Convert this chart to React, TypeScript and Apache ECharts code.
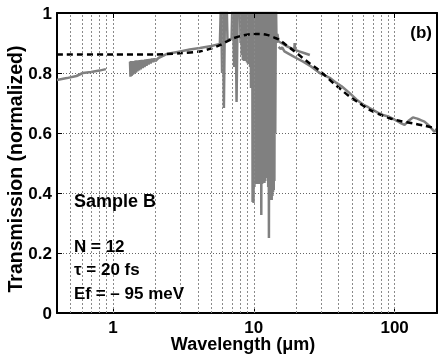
import React, { useEffect, useRef } from 'react';
import * as echarts from 'echarts';

// Tick labels
const xTickLabels = [1, 10, 100];
const yTicks = [0, 0.2, 0.4, 0.6, 0.8, 1];
// Log-decade dotted grid positions (µm)
const gridX = [0.5, 0.6, 0.7, 0.8, 0.9, 1, 2, 3, 4, 5, 6, 7, 8, 9, 10, 20, 30, 40, 50, 60, 70, 80, 90, 100];

// Measured transmission, near-IR segment [wavelength µm, T]
const measuredNIR = [
  [0.4, 0.777], [0.47, 0.783], [0.55, 0.79], [0.61, 0.8], [0.7, 0.803], [0.8, 0.808], [0.89, 0.813],
];

// Measured transmission, mid-IR segment (noisy start, absorption spikes, saturated band)
const measuredMIR = [
  [1.32, 0.838], [1.33, 0.788], [1.34, 0.84], [1.355, 0.79], [1.37, 0.84], [1.385, 0.794], [1.4, 0.84],
  [1.42, 0.798], [1.44, 0.841], [1.455, 0.801], [1.47, 0.842], [1.49, 0.805], [1.51, 0.842], [1.53, 0.809],
  [1.55, 0.843], [1.575, 0.812], [1.6, 0.844], [1.625, 0.816], [1.65, 0.844], [1.675, 0.82], [1.7, 0.845],
  [1.73, 0.824], [1.76, 0.846], [1.79, 0.828], [1.82, 0.847], [1.85, 0.832], [1.89, 0.848], [1.93, 0.836],
  [1.97, 0.849], [2.0, 0.84], [2.1, 0.85],
  [2.4, 0.863], [3.0, 0.872], [3.5, 0.878], [4.14, 0.883], [5.0, 0.89], [5.74, 0.897],
  [5.85, 1.05], [5.95, 0.8], [6.02, 1.05], [6.13, 0.683], [6.25, 1.05], [6.4, 1.05], [6.5, 0.91],
  [6.7, 0.912], [6.95, 0.913], [7.06, 1.05], [7.25, 0.82], [7.4, 1.05], [7.54, 0.703], [7.7, 1.05],
  [7.95, 1.05], [8.05, 0.9],
  [8.15, 1.05], [8.2, 0.86], [8.28, 1.05], [8.35, 0.843], [8.42, 1.05], [8.5, 0.84], [8.58, 1.05],
  [8.65, 0.845], [8.72, 1.05], [8.8, 0.84], [8.88, 1.05], [8.95, 0.835], [9.02, 1.05], [9.1, 0.83],
  [9.18, 1.05], [9.25, 0.84], [9.32, 1.05], [9.4, 0.82], [9.48, 1.05], [9.55, 0.75], [9.62, 1.05],
  [9.7, 0.8], [9.75, 1.05], [9.8, 0.37], [9.88, 1.05], [9.95, 0.367], [10.02, 1.05], [10.1, 0.42],
  [10.18, 1.05], [10.25, 0.43], [10.32, 1.05], [10.4, 0.43], [10.48, 1.05], [10.55, 0.43], [10.62, 1.05],
  [10.7, 0.43], [10.78, 1.05], [10.85, 0.43], [10.92, 1.05], [11.0, 0.43], [11.08, 1.05], [11.15, 0.43],
  [11.22, 1.05], [11.3, 0.327], [11.38, 1.05], [11.45, 0.43], [11.52, 1.05], [11.6, 0.433], [11.68, 1.05],
  [11.75, 0.433], [11.82, 1.05], [11.9, 0.433], [11.98, 1.05], [12.05, 0.44], [12.12, 1.05], [12.2, 0.45],
  [12.28, 1.05], [12.35, 0.5], [12.42, 1.05], [12.5, 0.45], [12.58, 1.05], [12.65, 0.42], [12.72, 1.05],
  [12.8, 0.25], [12.88, 1.05], [12.95, 0.42], [13.02, 1.05], [13.1, 0.38], [13.18, 1.05], [13.25, 0.377],
  [13.32, 1.05], [13.4, 0.377], [13.48, 1.05], [13.55, 0.39], [13.62, 1.05], [13.7, 0.403], [13.78, 1.05],
  [13.85, 0.41], [13.92, 1.05], [14.0, 0.44], [14.1, 1.05], [14.2, 0.6], [14.35, 1.05], [14.5, 0.9],
  [14.7, 0.93], [15.0, 0.905], [15.7, 0.9], [17, 0.89], [18.5, 0.882], [19.4, 0.878], [19.5, 0.9],
  [19.65, 0.877], [21, 0.872], [23, 0.866], [25, 0.86],
];

// Measured transmission, far-IR segment
const measuredFIR = [
  [15.0, 0.887], [15.5, 0.88], [15.9, 0.885], [16.5, 0.872], [18, 0.862], [20, 0.85], [22.4, 0.838],
  [25.5, 0.822], [29.4, 0.8], [34.6, 0.784], [38.6, 0.767], [42, 0.756], [48, 0.733], [53.5, 0.712],
  [59.6, 0.695], [65, 0.686], [70, 0.677], [76, 0.668], [82.6, 0.66], [90, 0.655], [97, 0.648],
  [104, 0.64], [111.5, 0.632], [117.7, 0.627], [125, 0.64], [134.8, 0.652], [145, 0.648], [155, 0.642],
  [163, 0.638], [175, 0.625], [182, 0.616], [192, 0.604], [197, 0.61], [200, 0.612],
];

// Drude model fit (dashed)
const drudeFit = [
  [0.4, 0.862], [1, 0.862], [2, 0.862], [2.4, 0.863], [3, 0.866], [4.14, 0.872], [5, 0.882], [5.74, 0.893],
  [7.1, 0.915], [8.5, 0.926], [9.84, 0.93], [11, 0.93], [12.4, 0.927], [14, 0.918], [15.3, 0.91],
  [17, 0.893], [18.9, 0.877], [22, 0.852], [25, 0.832], [27.9, 0.816], [32, 0.792], [36.3, 0.768],
  [40.7, 0.749], [48, 0.721], [56, 0.7], [66.5, 0.677], [78, 0.662], [92.2, 0.649], [110, 0.64],
  [134.8, 0.632], [160, 0.625], [200, 0.615],
];

const panelLabel = '(b)';
const annotations = ['Sample B', 'N = 12', 'τ = 20 fs', 'Ef = – 95 meV'];

const FONT = '"Liberation Sans", Arial, Helvetica, sans-serif';
const GRAY = '#808080';

export default function App() {
  const ref = useRef<HTMLDivElement>(null);
  useEffect(() => {
    if (!ref.current) return;
    const chart = echarts.init(ref.current, undefined, { renderer: 'svg' });
    const labelStyle = { color: '#000', fontSize: 17, fontWeight: 'bold' as const, fontFamily: FONT };
    const frameLine = { show: true, onZero: false, lineStyle: { color: '#000', width: 2 } };
    const xCommon = { type: 'log' as const, logBase: 10, min: 0.4, max: 200 };
    const yCommon = { type: 'value' as const, min: 0, max: 1, interval: 0.2 };
    const annoY = [200.5, 246, 269.5, 293];
    const annoSize = [18, 17, 17, 17];
    chart.setOption({
      animation: false,
      grid: { left: 57, right: 6, top: 13, bottom: 41, containLabel: false, outerBoundsMode: 'none' },
      xAxis: [
        {
          ...xCommon,
          position: 'bottom',
          axisLine: frameLine,
          axisTick: { show: true, inside: true, length: 5, lineStyle: { color: '#000', width: 1 } },
          axisLabel: {
            ...labelStyle,
            margin: 7,
            lineHeight: 15,
            formatter: (v: number) => {
              const hit = xTickLabels.find((t) => Math.abs(t - v) / t < 1e-6);
              return hit !== undefined ? String(hit) : '';
            },
          },
          splitLine: { show: false },
          name: 'Wavelength (μm)',
          nameLocation: 'middle',
          nameGap: 22,
          nameMoveOverlap: false,
          nameTextStyle: { ...labelStyle, fontSize: 18, padding: [0, 8, 0, 0] },
        },
        {
          ...xCommon,
          position: 'top',
          z: 10,
          axisLine: frameLine,
          axisTick: { show: true, inside: true, length: 5, lineStyle: { color: '#000', width: 1 } },
          axisLabel: { show: false },
          splitLine: { show: false },
        },
      ],
      yAxis: [
        {
          ...yCommon,
          position: 'left',
          axisLine: frameLine,
          axisTick: { show: true, inside: true, length: 5, lineStyle: { color: '#000', width: 1 } },
          axisLabel: {
            ...labelStyle,
            margin: 5,
            formatter: (v: number) => {
              const hit = yTicks.find((t) => Math.abs(t - v) < 1e-6);
              return hit !== undefined ? String(hit) : '';
            },
          },
          splitLine: { show: true, lineStyle: { type: [1, 2], color: '#666', width: 1 } },
          name: 'Transmission (normalized)',
          nameLocation: 'middle',
          nameGap: 32,
          nameMoveOverlap: false,
          nameTextStyle: { ...labelStyle, fontSize: 19.5, padding: [0, 12, 0, 0] },
        },
        {
          ...yCommon,
          position: 'right',
          z: 10,
          axisLine: frameLine,
          axisTick: { show: true, inside: true, length: 5, lineStyle: { color: '#000', width: 1 } },
          axisLabel: { show: false },
          splitLine: { show: false },
        },
      ],
      series: [
        {
          type: 'line',
          data: [],
          z: 1,
          silent: true,
          markLine: {
            silent: true,
            symbol: ['none', 'none'],
            label: { show: false },
            lineStyle: { type: [2, 2], color: '#8a8a8a', width: 1 },
            emphasis: { disabled: true },
            data: gridX.map((v) => ({ xAxis: v })),
          },
        },
        {
          type: 'line', data: measuredNIR, showSymbol: false, symbol: 'none', z: 3,
          lineStyle: { color: GRAY, width: 2.5 }, silent: true,
        },
        {
          type: 'line', data: measuredMIR, showSymbol: false, symbol: 'none', z: 3,
          lineStyle: { color: GRAY, width: 2.5, join: 'bevel' }, silent: true,
        },
        {
          type: 'line', data: measuredFIR, showSymbol: false, symbol: 'none', z: 3,
          lineStyle: { color: GRAY, width: 2.5 }, silent: true,
        },
        {
          type: 'line', data: drudeFit, showSymbol: false, symbol: 'none', z: 4, smooth: 0.3,
          lineStyle: { color: '#000', width: 2.5, type: [6, 4] }, silent: true,
        },
      ],
      graphic: [
        {
          type: 'text', x: 432, y: 32, z: 20,
          style: { text: panelLabel, textAlign: 'right', textVerticalAlign: 'middle', fill: '#000', font: `bold 17px ${FONT}` },
        },
        ...annotations.map((t, i) => ({
          type: 'text', x: 74, y: annoY[i], z: 20,
          style: { text: t, textAlign: 'left', textVerticalAlign: 'middle', fill: '#000', font: `bold ${annoSize[i]}px ${FONT}` },
        })),
      ],
    });
    return () => chart.dispose();
  }, []);
  return <div ref={ref} style={{ position: 'fixed', left: 0, top: 0, width: 443, height: 354 }} />;
}
